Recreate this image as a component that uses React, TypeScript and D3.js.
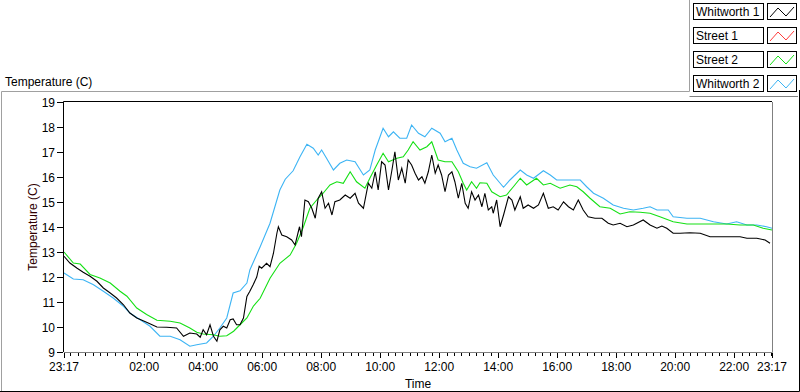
import React from 'react';
import * as d3 from 'd3';

// ---- data (minutes after 23:17, temperature °C) ----
const seriesNames = ['Whitworth 1', 'Street 1', 'Street 2', 'Whitworth 2'];
const seriesColors = ['#000000', '#ff3c3c', '#14e014', '#3cb4f4'];

const whitworth1: [number, number][] = [
  [0, 12.83], [12, 12.56], [26, 12.36], [39, 12.19], [53, 12.03], [67, 11.83], [80, 11.56], [94, 11.36],
  [107, 11.16], [121, 10.89], [134, 10.56], [148, 10.36], [168, 10.19], [189, 10.0], [209, 9.99], [229, 9.96],
  [243, 9.63], [256, 9.76], [270, 9.72], [277, 9.59], [283, 9.89], [290, 9.69], [297, 10.09], [304, 9.63],
  [311, 9.43], [317, 9.89], [324, 10.03], [331, 9.96], [338, 10.29], [344, 10.32], [351, 10.09], [358, 10.09],
  [365, 10.36], [372, 11.22], [378, 11.43], [385, 11.7], [392, 12.0], [397, 12.43], [402, 12.35], [412, 12.55],
  [419, 12.41], [426, 12.95], [433, 13.75], [436, 14.01], [443, 13.68], [453, 13.61], [463, 13.48], [470, 13.28],
  [479, 14.01], [483, 13.61], [490, 15.08], [497, 15.01], [504, 14.75], [511, 14.35], [517, 15.15], [524, 15.41],
  [531, 14.75], [538, 14.95], [545, 14.48], [551, 15.01], [561, 15.08], [572, 15.28], [582, 15.15], [592, 15.35],
  [599, 14.95], [609, 14.75], [619, 15.75], [626, 15.55], [633, 16.21], [639, 15.48], [646, 16.61], [653, 16.48],
  [660, 15.48], [667, 16.28], [673, 17.01], [680, 15.88], [687, 16.35], [694, 15.75], [700, 16.68], [707, 16.48],
  [714, 16.15], [721, 15.88], [728, 16.01], [734, 15.75], [741, 16.21], [748, 16.88], [755, 16.15], [761, 16.48],
  [768, 16.08], [775, 15.41], [782, 16.08], [789, 16.21], [795, 15.81], [802, 15.15], [809, 15.75], [816, 14.95],
  [822, 14.75], [829, 15.41], [836, 15.08], [843, 15.28], [850, 14.81], [856, 15.35], [863, 14.68], [870, 14.81],
  [873, 14.55], [880, 15.08], [887, 14.01], [894, 14.48], [904, 15.21], [911, 15.08], [917, 14.68], [928, 15.21],
  [934, 14.75], [944, 14.88], [955, 14.75], [965, 14.88], [975, 15.35], [985, 14.75], [995, 14.81], [1005, 14.68],
  [1016, 15.01], [1026, 14.81], [1036, 14.68], [1046, 15.08], [1056, 14.68], [1066, 14.41], [1080, 14.35],
  [1094, 14.35], [1107, 14.15], [1117, 14.08], [1131, 14.15], [1145, 14.01], [1158, 14.08], [1178, 14.28],
  [1192, 14.08], [1206, 13.95], [1216, 14.04], [1226, 13.95], [1239, 13.75], [1253, 13.75], [1273, 13.77],
  [1294, 13.75], [1314, 13.61], [1334, 13.61], [1355, 13.61], [1375, 13.61], [1389, 13.55], [1409, 13.55],
  [1426, 13.48], [1436, 13.35],
];

const street1: [number, number][] = [];

const street2: [number, number][] = [
  [0, 13.0], [19, 12.56], [33, 12.52], [53, 12.1], [73, 11.96], [94, 11.76], [114, 11.43], [128, 11.23],
  [148, 10.76], [168, 10.5], [189, 10.27], [216, 10.23], [236, 10.16], [256, 9.96], [270, 9.79], [283, 9.72],
  [303, 9.69], [317, 9.63], [331, 9.65], [345, 9.83], [358, 10.09], [372, 10.36], [385, 10.83], [399, 11.15],
  [419, 11.95], [439, 12.55], [460, 12.88], [473, 13.35], [487, 14.01], [500, 14.75], [514, 15.08], [527, 15.35],
  [541, 15.68], [555, 15.81], [568, 15.75], [582, 16.21], [595, 15.81], [612, 15.55], [622, 15.95], [636, 16.48],
  [649, 16.95], [660, 16.61], [677, 16.75], [690, 16.81], [700, 17.08], [710, 17.41], [724, 17.08], [738, 17.21],
  [748, 17.41], [761, 16.68], [775, 16.61], [789, 16.61], [802, 16.21], [812, 15.75], [819, 15.48], [829, 15.81],
  [839, 15.55], [846, 15.77], [860, 15.75], [870, 15.41], [887, 15.21], [900, 15.28], [914, 15.61], [928, 15.95],
  [941, 15.68], [961, 15.95], [975, 15.68], [989, 15.75], [1009, 15.55], [1029, 15.68], [1043, 15.61],
  [1056, 15.41], [1070, 15.15], [1090, 14.81], [1111, 14.75], [1131, 14.52], [1151, 14.61], [1172, 14.59],
  [1192, 14.55], [1212, 14.41], [1239, 14.21], [1267, 14.12], [1294, 14.12], [1321, 14.12], [1348, 14.12],
  [1375, 14.08], [1402, 14.08], [1422, 13.95], [1440, 13.88],
];

const whitworth2: [number, number][] = [
  [0, 12.16], [19, 11.92], [39, 11.89], [60, 11.69], [80, 11.43], [100, 11.16], [121, 10.83], [134, 10.56],
  [155, 10.29], [175, 10.03], [195, 9.63], [216, 9.63], [236, 9.49], [256, 9.23], [270, 9.29], [290, 9.36],
  [304, 9.63], [317, 9.96], [331, 10.36], [344, 11.36], [358, 11.45], [372, 11.76], [378, 12.28], [399, 13.21],
  [419, 14.15], [439, 15.48], [450, 15.91], [466, 16.25], [480, 16.81], [494, 17.31], [507, 17.15], [517, 16.88],
  [524, 17.08], [534, 16.75], [548, 16.28], [561, 16.55], [575, 16.68], [592, 16.61], [609, 16.08], [622, 16.28],
  [633, 17.08], [649, 17.95], [660, 17.61], [670, 17.81], [683, 17.55], [697, 17.55], [707, 18.08], [721, 17.75],
  [734, 17.61], [748, 17.95], [765, 17.75], [775, 17.41], [789, 17.55], [799, 17.08], [812, 16.55], [826, 16.41],
  [839, 16.35], [860, 16.57], [873, 16.08], [894, 15.59], [907, 15.88], [928, 16.28], [941, 16.08], [955, 15.95],
  [975, 16.25], [989, 16.08], [1002, 15.88], [1050, 15.88], [1063, 15.61], [1077, 15.35], [1097, 15.15],
  [1117, 14.88], [1138, 14.75], [1158, 14.68], [1178, 14.75], [1192, 14.81], [1206, 14.68], [1229, 14.68],
  [1239, 14.41], [1267, 14.35], [1294, 14.35], [1321, 14.21], [1348, 14.12], [1368, 14.21], [1389, 14.08],
  [1409, 14.08], [1429, 14.01], [1440, 13.95],
];

const yTicks = [9, 10, 11, 12, 13, 14, 15, 16, 17, 18, 19];
const xTickTimes = [
  '2000-01-01T23:17', '2000-01-02T02:00', '2000-01-02T04:00', '2000-01-02T06:00', '2000-01-02T08:00',
  '2000-01-02T10:00', '2000-01-02T12:00', '2000-01-02T14:00', '2000-01-02T16:00', '2000-01-02T18:00',
  '2000-01-02T20:00', '2000-01-02T22:00', '2000-01-02T23:17',
];
const chartTitle = 'Temperature (C)';
const yLabel = 'Temperature (C)';
const xLabel = 'Time';

const FONT = '"Liberation Sans", Arial, sans-serif';

export default function App() {
  const W = 800, H = 392;
  const left = 64, right = 772, top = 102, bottom = 352;
  const start = new Date(2000, 0, 1, 23, 17);
  const end = new Date(2000, 0, 2, 23, 17);
  const x = d3.scaleTime().domain([start, end]).range([left, right]);
  const y = d3.scaleLinear().domain([9, 19]).range([bottom, top]);
  const toDate = (m: number) => new Date(start.getTime() + m * 60000);
  const line = d3.line<[number, number]>().x(d => x(toDate(d[0]))).y(d => y(d[1]));
  const majorTicks = xTickTimes.map(s => new Date(s));
  const fmt = d3.timeFormat('%H:%M');
  const minorTicks = d3.timeMinute.every(15)!.range(start, end);
  const allSeries = [whitworth1, street1, street2, whitworth2];
  const drawOrder = [3, 2, 1, 0];

  const legendX = 693, legendY = 3, legendStep = 24;

  return (
    <svg width={W} height={H} style={{ position: 'absolute', left: 0, top: 0, background: '#fff' }}
      fontFamily={FONT}>
      <rect x={0} y={0} width={W} height={H} fill="#fff" />
      {/* panel frame */}
      <path d="M1.5,392 V91.5 H689.5 V0" fill="none" stroke="#a0a0a0" />
      <path d="M689.5,96.5 H798" fill="none" stroke="#808080" />
      <path d="M799.5,90 V391.5 H0" fill="none" stroke="#000" />
      <text x={5} y={86} fontSize={12} fill="#000">{chartTitle}</text>

      {/* plot area */}
      <g>
        {drawOrder.map(i => allSeries[i].length ? (
          <path key={i} d={line(allSeries[i]) || ''} fill="none" stroke={seriesColors[i]} strokeWidth={1.1} />
        ) : null)}
      </g>
      <path d={`M${left - 0.5},${bottom} V${top - 0.5} H${right}`} fill="none" stroke="#000" />
      <path d={`M${right + 0.5},${top} V${bottom + 0.5} H${left}`} fill="none" stroke="#808080" />

      {/* y axis */}
      {yTicks.map(t => (
        <g key={t}>
          <line x1={57} x2={63} y1={Math.round(y(t)) + 0.5} y2={Math.round(y(t)) + 0.5} stroke="#000" />
          <text x={55} y={y(t) + 4.5} fontSize={12} textAnchor="end" fill="#000">{t}</text>
        </g>
      ))}
      <text transform={`translate(37,${(top + bottom) / 2}) rotate(-90)`} fontSize={12} textAnchor="middle"
        fill="#300000">{yLabel}</text>

      {/* x axis */}
      {minorTicks.map((t, i) => (
        <line key={'m' + i} x1={Math.round(x(t)) + 0.5} x2={Math.round(x(t)) + 0.5} y1={bottom + 1} y2={bottom + 4}
          stroke="#000" />
      ))}
      {majorTicks.map((t, i) => (
        <g key={'M' + i}>
          <line x1={Math.round(x(t)) + 0.5} x2={Math.round(x(t)) + 0.5} y1={bottom + 1} y2={bottom + 6} stroke="#000" />
          <text x={x(t)} y={371} fontSize={12} textAnchor="middle" fill="#000">{fmt(t)}</text>
        </g>
      ))}
      <text x={(left + right) / 2} y={388} fontSize={12} textAnchor="middle" fill="#000">{xLabel}</text>

      {/* legend */}
      {seriesNames.map((n, i) => {
        const ty = legendY + i * legendStep;
        const ix = 767;
        return (
          <g key={n}>
            <rect x={legendX + 0.5} y={ty + 0.5} width={70} height={16} fill="#fff" stroke="#000" />
            <text x={legendX + 3} y={ty + 13} fontSize={12} fill="#000">{n}</text>
            <rect x={ix + 0.5} y={ty + 0.5} width={29} height={16} fill="#fff" stroke="#000" />
            <polyline points={`${ix + 3},${ty + 14} ${ix + 11},${ty + 5} ${ix + 19},${ty + 13} ${ix + 27},${ty + 4}`}
              fill="none" stroke={seriesColors[i]} strokeWidth={1} />
          </g>
        );
      })}
    </svg>
  );
}
